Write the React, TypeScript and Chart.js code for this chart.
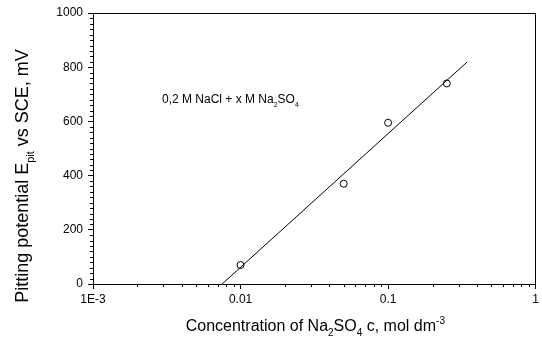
import React, { useEffect, useRef } from 'react';
import { Chart, registerables } from 'chart.js';

Chart.register(...registerables);

const concentrations = [0.01, 0.05, 0.1, 0.25];
const potentials = [70, 370, 595, 740];
const fitConcentrations = [0.0075, 0.343];
const fitPotentials = [0, 819];
const xTickValues = [0.001, 0.01, 0.1, 1];
const xTickLabels = ['1E-3', '0.01', '0.1', '1'];
const yTickValues = [0, 200, 400, 600, 800, 1000];
const yMinorStep = 20;
const xMinorMultipliers = [2, 3, 4, 5, 6, 7, 8, 9];

type Part = { t: string; s?: 'sub' | 'sup' };
const xTitle: Part[] = [
  { t: 'Concentration of Na' }, { t: '2', s: 'sub' }, { t: 'SO' }, { t: '4', s: 'sub' },
  { t: ' c, mol dm' }, { t: '-3', s: 'sup' },
];
const yTitle: Part[] = [
  { t: 'Pitting potential E' }, { t: 'pit', s: 'sub' }, { t: ' vs SCE, mV' },
];
const annotation: Part[] = [
  { t: '0,2 M NaCl + x M Na' }, { t: '2', s: 'sub' }, { t: 'SO' }, { t: '4', s: 'sub' },
];

const FONT = '"Liberation Sans", Arial, sans-serif';

function drawRich(ctx: CanvasRenderingContext2D, parts: Part[], x: number, y: number, size: number, align: 'left' | 'center') {
  const small = Math.round(size * 0.62);
  const widths = parts.map((p) => {
    ctx.font = `${p.s ? small : size}px ${FONT}`;
    return ctx.measureText(p.t).width;
  });
  const total = widths.reduce((a, b) => a + b, 0);
  let cx = align === 'center' ? x - total / 2 : x;
  ctx.textAlign = 'left';
  ctx.textBaseline = 'alphabetic';
  parts.forEach((p, i) => {
    ctx.font = `${p.s ? small : size}px ${FONT}`;
    let dy = 0;
    if (p.s === 'sub') dy = size * 0.32;
    if (p.s === 'sup') dy = -size * 0.42;
    ctx.fillText(p.t, cx, y + dy);
    cx += widths[i];
  });
}

const decorPlugin = {
  id: 'decor',
  afterDraw(chart: any) {
    const { ctx, chartArea: ca, scales } = chart;
    const xs = scales.x;
    const ys = scales.y;
    ctx.save();
    ctx.fillStyle = '#000';
    const L = Math.round(ca.left);
    const R = Math.round(ca.right);
    const T = Math.round(ca.top);
    const B = Math.round(ca.bottom);
    ctx.fillRect(L, T, R - L, 1);
    ctx.fillRect(R - 1, T, 1, B - T);
    for (let v = yMinorStep; v < 1000; v += yMinorStep) {
      if (yTickValues.includes(v)) continue;
      const py = Math.round(ys.getPixelForValue(v));
      ctx.fillRect(L - 3, py, 3, 1);
    }
    for (let k = 0; k < xTickValues.length - 1; k++) {
      const d = xTickValues[k];
      for (const m of xMinorMultipliers) {
        const px = Math.round(xs.getPixelForValue(d * m));
        ctx.fillRect(px, B, 1, 3);
      }
    }
    drawRich(ctx, xTitle, (ca.left + ca.right) / 2 + 1, 331, 16, 'center');
    ctx.save();
    ctx.translate(28, 176);
    ctx.rotate(-Math.PI / 2);
    drawRich(ctx, yTitle, 0, 0, 18, 'center');
    ctx.restore();
    drawRich(ctx, annotation, 162, 103, 12, 'left');
    ctx.restore();
  },
};

export default function App() {
  const ref = useRef<HTMLCanvasElement>(null);
  useEffect(() => {
    if (!ref.current) return;
    const chart = new Chart(ref.current, {
      type: 'scatter',
      data: {
        datasets: [
          {
            data: fitConcentrations.map((c, i) => ({ x: c, y: fitPotentials[i] })),
            showLine: true,
            borderColor: '#000',
            borderWidth: 1,
            pointRadius: 0,
          },
          {
            data: concentrations.map((c, i) => ({ x: c, y: potentials[i] })),
            showLine: false,
            pointStyle: 'circle',
            pointRadius: 3.5,
            borderColor: '#000',
            backgroundColor: 'rgba(255,255,255,0)',
            borderWidth: 1,
          },
        ],
      },
      options: {
        responsive: false,
        animation: false,
        devicePixelRatio: 1,
        layout: { padding: { top: 13, right: 3, left: 0, bottom: 0 } },
        plugins: { legend: { display: false }, tooltip: { enabled: false } },
        scales: {
          x: {
            type: 'logarithmic',
            min: 0.001,
            max: 1,
            afterBuildTicks: (s: any) => {
              s.ticks = xTickValues.map((v) => ({ value: v }));
            },
            afterFit: (s: any) => {
              s.height = 56;
            },
            ticks: {
              autoSkip: false,
              maxRotation: 0,
              color: '#000',
              font: { family: FONT, size: 12 },
              padding: 3,
              callback: (v: any) => xTickLabels[xTickValues.indexOf(Number(v))] ?? '',
            },
            grid: { drawOnChartArea: false, tickLength: 5, color: '#000' },
            border: { color: '#000', width: 1 },
          },
          y: {
            type: 'linear',
            min: 0,
            max: 1000,
            afterBuildTicks: (s: any) => {
              s.ticks = yTickValues.map((v) => ({ value: v }));
            },
            afterFit: (s: any) => {
              s.width = 93;
            },
            ticks: {
              color: '#000',
              font: { family: FONT, size: 12 },
              padding: 5,
              callback: (v: any) => String(v),
            },
            grid: { drawOnChartArea: false, tickLength: 5, color: '#000' },
            border: { color: '#000', width: 1 },
          },
        },
      },
      plugins: [decorPlugin],
    });
    return () => chart.destroy();
  }, []);
  return (
    <div style={{ position: 'absolute', left: 0, top: 0, width: 542, height: 340, background: '#fff' }}>
      <canvas ref={ref} width={542} height={340} />
    </div>
  );
}
